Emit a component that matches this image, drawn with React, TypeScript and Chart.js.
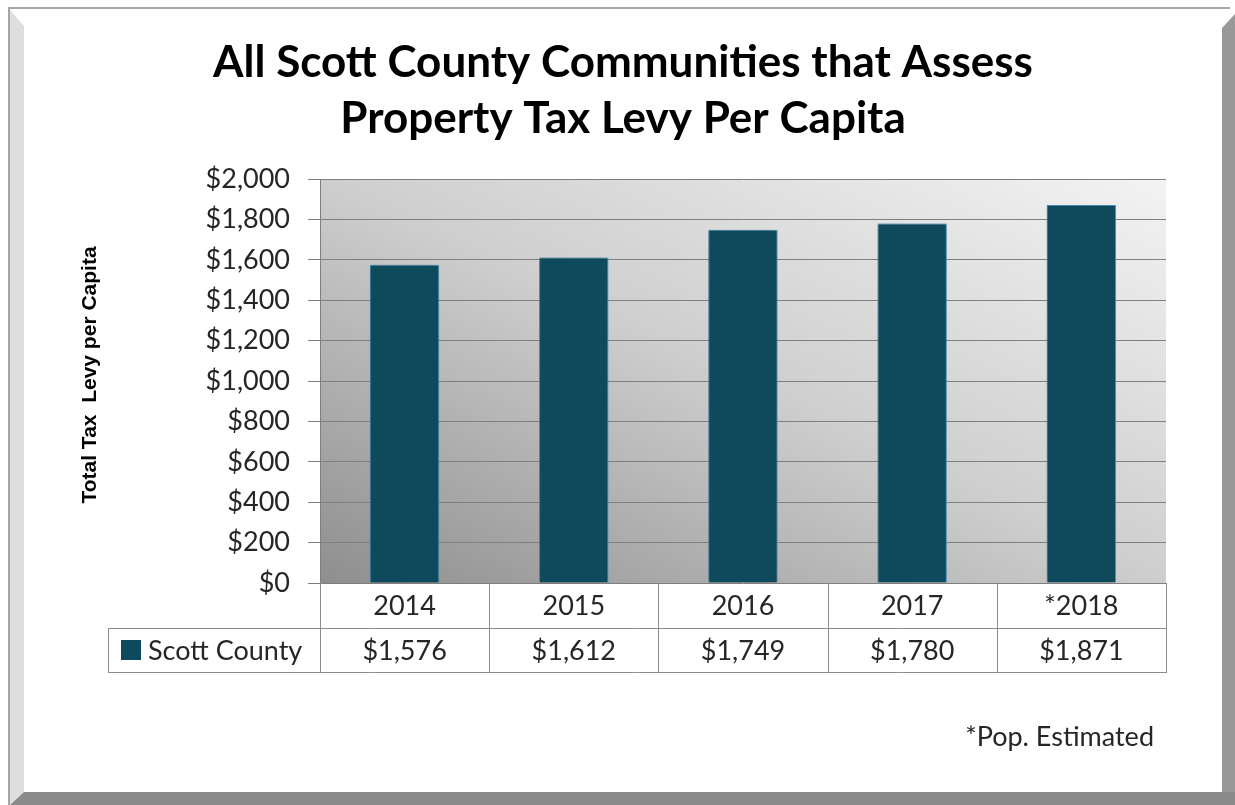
import React, { useEffect, useRef } from "react";
import { Chart, registerables } from "chart.js";

Chart.register(...registerables);

const categories = ["2014", "2015", "2016", "2017", "*2018"];
const seriesName = "Scott County";
const values = [1576, 1612, 1749, 1780, 1871];
const yTicksMax = 2000;
const yTickStep = 200;
const titleLines = ["All Scott County Communities that Assess", "Property Tax Levy Per Capita"];
const yAxisTitle = "Total Tax  Levy per Capita";
const footnote = "*Pop. Estimated";

const BAR_COLOR = "#0e4a5b";
const TEXT = "#262626";
const FONT = "Lato";

const fmt = (v: number) => "$" + v.toLocaleString("en-US");

const decorPlugin = {
  id: "decor",
  beforeDraw(chart: any) {
    const ctx = chart.ctx as CanvasRenderingContext2D;
    const W = chart.width;
    const H = chart.height;
    ctx.save();
    ctx.fillStyle = "#ffffff";
    ctx.fillRect(0, 0, W, H);
    // outer thin lines
    ctx.fillStyle = "#a6a6a6";
    ctx.fillRect(8, 7, 1222, 2);
    ctx.fillRect(8, 8, 2, H - 8);
    // left bevel
    ctx.fillStyle = "#dedede";
    ctx.beginPath();
    ctx.moveTo(10, 10);
    ctx.lineTo(24, 26);
    ctx.lineTo(24, 792);
    ctx.lineTo(10, 805);
    ctx.closePath();
    ctx.fill();
    // right band
    ctx.fillStyle = "#999999";
    ctx.beginPath();
    ctx.moveTo(1222, 28);
    ctx.lineTo(1235, 14);
    ctx.lineTo(1235, H);
    ctx.lineTo(1222, H);
    ctx.closePath();
    ctx.fill();
    // bottom band
    ctx.fillStyle = "#8a8a8a";
    ctx.beginPath();
    ctx.moveTo(24, 792);
    ctx.lineTo(1235, 792);
    ctx.lineTo(1235, H);
    ctx.lineTo(10, H);
    ctx.closePath();
    ctx.fill();

    // plot area gradient
    const a = chart.chartArea;
    const w = a.right - a.left;
    const h = a.bottom - a.top;
    const D = Math.sqrt(w * w + h * h);
    const ux = h / D, uy = -w / D;
    const len = (2 * w * h) / D;
    const cx = (a.left + a.right) / 2, cy = (a.top + a.bottom) / 2;
    const g = ctx.createLinearGradient(
      cx - (ux * len) / 2, cy - (uy * len) / 2,
      cx + (ux * len) / 2, cy + (uy * len) / 2
    );
    g.addColorStop(0, "#8e8e8e");
    g.addColorStop(0.5, "#cecece");
    g.addColorStop(1, "#f3f3f3");
    ctx.fillStyle = g;
    ctx.fillRect(a.left, a.top, w, h);
    ctx.restore();
  },
  beforeDatasetsDraw(chart: any) {
    const ctx = chart.ctx as CanvasRenderingContext2D;
    ctx.save();
    ctx.shadowColor = "rgba(0,0,0,0.35)";
    ctx.shadowBlur = 6;
    ctx.shadowOffsetX = -2;
    ctx.shadowOffsetY = 0;
  },
  afterDatasetsDraw(chart: any) {
    chart.ctx.restore();
  },
  afterDraw(chart: any) {
    const ctx = chart.ctx as CanvasRenderingContext2D;
    const a = chart.chartArea;
    const x = chart.scales.x;
    ctx.save();
    // title
    ctx.fillStyle = "#000000";
    ctx.textAlign = "center";
    ctx.textBaseline = "alphabetic";
    ctx.font = `bold 44px ${FONT}`;
    ctx.fillText(titleLines[0], 623, 77);
    ctx.fillText(titleLines[1], 623, 133);

    // y axis title
    ctx.save();
    ctx.translate(90, 375);
    ctx.rotate(-Math.PI / 2);
    ctx.font = "bold 21px 'Liberation Sans'";
    ctx.textAlign = "center";
    ctx.textBaseline = "middle";
    ctx.fillText(yAxisTitle, 0, 0);
    ctx.restore();

    // data table
    const n = categories.length;
    const colW = (a.right - a.left) / n;
    const r1 = a.bottom;
    const r2 = r1 + 45;
    const r3 = r2 + 44;
    const tableLeft = 108;
    ctx.strokeStyle = "#8c8c8c";
    ctx.lineWidth = 1;
    ctx.beginPath();
    for (let i = 0; i <= n; i++) {
      const px = Math.round(a.left + i * colW) + 0.5;
      ctx.moveTo(px, r1);
      ctx.lineTo(px, r3);
    }
    ctx.moveTo(tableLeft + 0.5, r2);
    ctx.lineTo(tableLeft + 0.5, r3);
    ctx.moveTo(tableLeft, r2 + 0.5);
    ctx.lineTo(a.right + 1, r2 + 0.5);
    ctx.moveTo(tableLeft, r3 + 0.5);
    ctx.lineTo(a.right + 1, r3 + 0.5);
    ctx.stroke();

    ctx.fillStyle = TEXT;
    ctx.font = `27px ${FONT}`;
    ctx.textAlign = "center";
    ctx.textBaseline = "middle";
    categories.forEach((c, i) => {
      const cxp = x.getPixelForValue(i);
      ctx.fillText(c, cxp, (r1 + r2) / 2 + 1);
      ctx.fillText(fmt(values[i]), cxp, (r2 + r3) / 2 + 1);
    });
    // legend key
    ctx.fillStyle = BAR_COLOR;
    ctx.fillRect(121, r2 + 12, 20, 20);
    ctx.fillStyle = TEXT;
    ctx.textAlign = "left";
    ctx.fillText(seriesName, 148, (r2 + r3) / 2 + 1);

    // footnote
    ctx.font = `27px ${FONT}`;
    ctx.textAlign = "right";
    ctx.textBaseline = "alphabetic";
    ctx.fillText(footnote, 1154, 746);
    ctx.restore();
  },
};

export default function App() {
  const ref = useRef<HTMLCanvasElement | null>(null);
  useEffect(() => {
    if (!ref.current) return;
    const chart = new Chart(ref.current, {
      type: "bar",
      data: {
        labels: categories,
        datasets: [
          {
            label: seriesName,
            data: values,
            backgroundColor: BAR_COLOR,
            borderColor: "#4f9fcf",
            borderWidth: { left: 1, right: 1, top: 1, bottom: 0 },
            barPercentage: 0.41,
            categoryPercentage: 1,
          },
        ],
      },
      options: {
        responsive: false,
        animation: false,
        events: [],
        layout: { padding: { left: 100, right: 69, top: 179, bottom: 222 } },
        plugins: { legend: { display: false }, tooltip: { enabled: false }, title: { display: false } },
        scales: {
          x: {
            display: false,
            grid: { display: false },
          },
          y: {
            min: 0,
            max: yTicksMax,
            afterFit: (s: any) => {
              s.width = 220;
            },
            ticks: {
              stepSize: yTickStep,
              padding: 18,
              color: TEXT,
              font: { family: FONT, size: 27 },
              callback: (v: any) => fmt(Number(v)),
            },
            grid: { color: "#7f7f7f", lineWidth: 1, tickLength: 12, drawTicks: true },
            border: { display: true, color: "#7f7f7f" },
          },
        },
      },
      plugins: [decorPlugin],
    });
    return () => chart.destroy();
  }, []);
  return (
    <div style={{ position: "absolute", left: 0, top: 0, width: 1235, height: 805 }}>
      <canvas ref={ref} width={1235} height={805} style={{ display: "block", width: 1235, height: 805 }} />
    </div>
  );
}
